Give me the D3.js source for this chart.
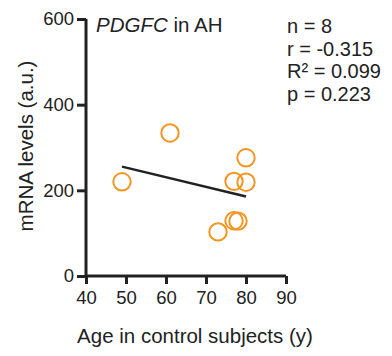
<!DOCTYPE html>
<html>
<head>
<meta charset="utf-8">
<script src="https://cdn.jsdelivr.net/npm/d3@7"></script>
<style>
  body { margin: 0; background: #fff; }
  svg { display: block; font-family: "Liberation Sans", Arial, sans-serif; }
</style>
</head>
<body>
<div id="chart"></div>
<script>
// values
const ages = [49, 61, 73, 77, 77, 78, 80, 80];
const mrna = [220, 334, 103, 221, 129, 128, 276, 219];
const xTicks = [40, 50, 60, 70, 80, 90];
const yTicks = [0, 200, 400, 600];
const statLines = ['n = 8', 'r = -0.315', 'R² = 0.099', 'p = 0.223'];

const width = 392, height = 356;
const ink = '#222';
const orange = '#f7941d';

const x = d3.scaleLinear().domain([40, 90]).range([86, 286]);
const y = d3.scaleLinear().domain([0, 600]).range([276, 19]);

const svg = d3.select('#chart')
  .append('svg')
    .attr('width', width)
    .attr('height', height);

// least squares fit through the points
const mx = d3.mean(ages), my = d3.mean(mrna);
const sxy = d3.sum(ages, (a, i) => (a - mx) * (mrna[i] - my));
const sxx = d3.sum(ages, (a) => (a - mx) * (a - mx));
const slope = sxy / sxx;
const intercept = my - slope * mx;
const fitX = d3.extent(ages);

const xAxis = svg.append('g')
  .attr('transform', `translate(0, ${y(0)})`)
  .call(d3.axisBottom(x).tickValues(xTicks).tickSize(8).tickPadding(7));

const yAxis = svg.append('g')
  .attr('transform', `translate(${x(40)}, 0)`)
  .call(d3.axisLeft(y).tickValues(yTicks).tickSize(9).tickPadding(3));

[xAxis, yAxis].forEach((g) => {
  g.select('.domain').attr('stroke', ink).attr('stroke-width', 3)
    .attr('d', g === xAxis ? `M${x(40)},0H${x(90)}` : `M0,${y(0)}V${y(600)}`);
  g.selectAll('.tick line').attr('stroke', ink).attr('stroke-width', 3);
  g.selectAll('.tick text').attr('fill', ink).style('font-size', '18.5px');
});

svg.append('line')
  .attr('x1', x(fitX[0]))
  .attr('y1', y(intercept + slope * fitX[0]))
  .attr('x2', x(fitX[1]))
  .attr('y2', y(intercept + slope * fitX[1]))
  .attr('stroke', ink)
  .attr('stroke-width', 2.5);

svg.append('g')
  .selectAll('circle')
  .data(ages)
  .join('circle')
    .attr('cx', (d) => x(d))
    .attr('cy', (d, i) => y(mrna[i]))
    .attr('r', 8.7)
    .attr('fill', 'none')
    .attr('stroke', orange)
    .attr('stroke-width', 2);

const title = svg.append('text')
  .attr('x', 96)
  .attr('y', 32)
  .attr('fill', ink)
  .style('font-size', '20.5px');
title.append('tspan').attr('font-style', 'italic').text('PDGFC');
title.append('tspan').text(' in AH');

svg.append('g')
  .selectAll('text')
  .data(statLines)
  .join('text')
    .attr('x', 287)
    .attr('y', (d, i) => 33 + i * 22.5)
    .attr('fill', ink)
    .style('font-size', '20px')
    .text((d) => d);

svg.append('text')
  .attr('x', 195)
  .attr('y', 343)
  .attr('text-anchor', 'middle')
  .attr('fill', ink)
  .style('font-size', '20.5px')
  .text('Age in control subjects (y)');

svg.append('text')
  .attr('transform', 'translate(33, 146) rotate(-90)')
  .attr('text-anchor', 'middle')
  .attr('fill', ink)
  .style('font-size', '20.5px')
  .text('mRNA levels (a.u.)');
</script>
</body>
</html>
